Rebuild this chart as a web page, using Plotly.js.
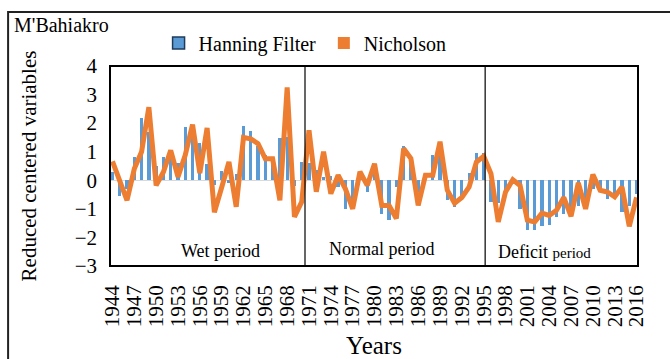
<!DOCTYPE html>
<html>
<head>
<meta charset="utf-8">
<script src="https://cdn.plot.ly/plotly-3.0.1.min.js"></script>
<style>
  html, body { margin: 0; padding: 0; background: #fff; }
  #chart { width: 670px; height: 359px; }
</style>
</head>
<body>
<div id="chart"></div>
<script>
const years = [];
for (let y = 1944; y <= 2016; y++) years.push(y);

const hanning = [
  0.29, -0.56, -0.3, 0.81, 2.19, 1.7, 0.5, 0.8, 0.76, 0.62,
  1.85, 1.55, 1.29, 0.58, -0.15, 0.32, -0.1, 0.23, 1.9, 1.71,
  1.19, 0.9, 0.7, 1.48, 1.5, -0.2, 0.64, 0.6, 0.35, 0.1,
  0.15, -0.23, -1.0, -1.0, 0.23, -0.4, 0.3, -1.17, -1.4, -0.23,
  1.19, 0.6, -0.4, 0.2, 0.88, 1.0, -0.68, -0.94, -0.64, 0.26,
  0.97, 0.94, -0.76, -0.8, -0.4, -0.1, -1.0, -1.73, -1.73, -1.61,
  -1.58, -1.3, -1.17, -1.2, -0.9, -0.8, -0.3, -0.41, -0.64, -0.47,
  -1.11, -0.9, -0.47
];

const nicholson = [
  0.66, -0.05, -0.7, 0.4, 1.0, 2.56, -0.18, 0.29, 1.05, 0.12,
  0.88, 1.95, 0.25, 1.83, -1.12, -0.25, 0.64, -0.93, 1.5, 1.45,
  1.28, 0.75, 0.75, -0.7, 3.25, -1.28, -0.75, 1.75, -0.4, 1.0,
  -0.47, 0.18, -0.3, -1.0, 0.3, -0.18, 0.58, -0.88, -0.88, -1.34,
  1.11, 0.76, -0.88, 0.18, 0.18, 1.35, -0.35, -0.8, -0.6, -0.23,
  0.64, 0.84, 0.23, -1.46, -0.41, 0.02, -0.18, -1.4, -1.46, -1.15,
  -1.23, -1.05, -0.6, -1.26, -0.09, -1.0, 0.2, -0.35, -0.41, -0.58,
  -0.23, -1.61, -0.6
];

const periodLabels = ["Wet period", "Normal period", "Deficit <span style='font-size:15px'>period</span>"];
const periodX = [1958.9, 1981.0, 2003.4];
const periodY = [-2.46, -2.4, -2.5];
const periodBreaks = [1970.45, 1995.2];

const serif = "'Liberation Serif', 'Times New Roman', serif";
const blue = "#5B9BD5";
const orange = "#ED7D31";

const traces = [
  {
    type: "bar", x: years, y: hanning, name: "Hanning Filter",
    width: 0.45, marker: { color: blue }, showlegend: false, hoverinfo: "x+y"
  },
  {
    type: "scatter", mode: "lines", x: years, y: nicholson, name: "Nicholson",
    line: { color: orange, width: 5 }, showlegend: false
  },
  {
    type: "bar", x: [null], y: [null], name: "Hanning Filter",
    marker: { color: blue, line: { color: "#1F3B5C", width: 1.5 } },
    showlegend: true, legend: "legend"
  },
  {
    type: "bar", x: [null], y: [null], name: "Nicholson",
    marker: { color: orange }, showlegend: true, legend: "legend2"
  }
];

const shapes = [
  { type: "rect", xref: "paper", yref: "paper", x0: 0, x1: 1, y0: 0, y1: 1,
    line: { color: "#000", width: 2 } },
  { type: "rect", xref: "paper", yref: "paper", x0: -0.193, x1: 1.2, y0: -0.6, y1: 1.27,
    line: { color: "#222", width: 2 } }
];
periodBreaks.forEach(b => shapes.push({
  type: "line", xref: "x", yref: "paper", x0: b, x1: b, y0: 0, y1: 1,
  line: { color: "#000", width: 1.2 }
}));

const annotations = [
  { text: "M'Bahiakro", xref: "paper", yref: "paper", x: -0.186, y: 1.205,
    xanchor: "left", yanchor: "middle", showarrow: false,
    font: { family: serif, size: 20, color: "#000" } }
];
periodLabels.forEach((t, i) => annotations.push({
  text: t, xref: "x", yref: "y", x: periodX[i], y: periodY[i],
  showarrow: false, xanchor: "center", yanchor: "middle",
  font: { family: serif, size: 18, color: "#000" }
}));

const layout = {
  width: 670, height: 359,
  margin: { l: 110, r: 32, t: 66, b: 93 },
  paper_bgcolor: "#fff", plot_bgcolor: "#fff",
  bargap: 0,
  font: { family: serif, color: "#000" },
  xaxis: {
    range: [1943.66, 2016.2],
    tickmode: "linear", tick0: 1944, dtick: 3,
    tickangle: -90, ticks: "", showgrid: false, zeroline: false, showline: false,
    ticklabelstandoff: 14,
    tickfont: { family: serif, size: 21, color: "#000" },
    title: { text: "Years", font: { family: serif, size: 25, color: "#000" }, standoff: 17 }
  },
  yaxis: {
    range: [-3, 4], tickmode: "linear", tick0: 0, dtick: 1,
    ticks: "", showgrid: false, showline: false,
    zeroline: true, zerolinecolor: "#D9D9D9", zerolinewidth: 1.5,
    ticklabelstandoff: 12,
    tickfont: { family: serif, size: 21, color: "#000" },
    title: { text: "Reduced centered variables", font: { family: serif, size: 21, color: "#000" }, standoff: 32 }
  },
  legend: {
    x: 0.092, y: 1.115, xanchor: "left", yanchor: "middle",
    orientation: "h", bgcolor: "rgba(0,0,0,0)",
    font: { family: serif, size: 20, color: "#000" }
  },
  legend2: {
    x: 0.405, y: 1.115, xanchor: "left", yanchor: "middle",
    orientation: "h", bgcolor: "rgba(0,0,0,0)",
    font: { family: serif, size: 20, color: "#000" }
  },
  shapes: shapes,
  annotations: annotations
};

Plotly.newPlot("chart", traces, layout, { displayModeBar: false, staticPlot: true });
</script>
</body>
</html>
